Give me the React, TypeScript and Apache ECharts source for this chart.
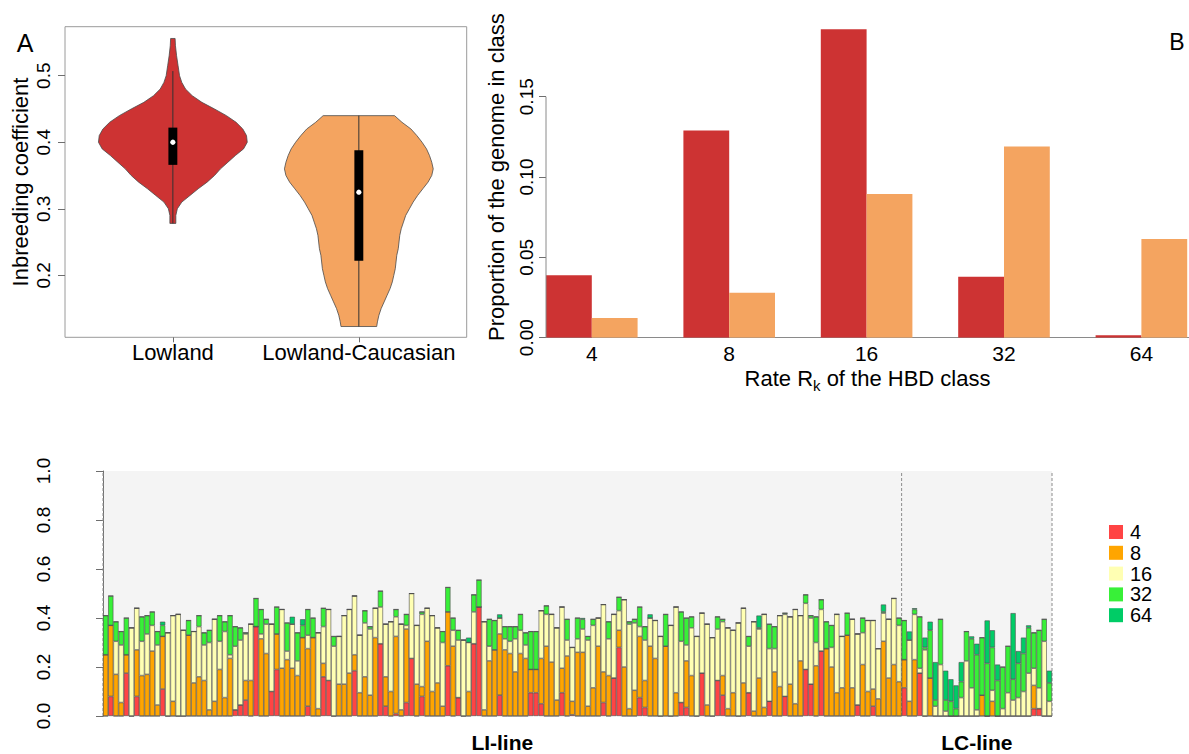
import React, { useEffect, useRef } from "react";
import * as echarts from "echarts";

// ---------- Panel A : violins ----------
const violinGroups = ["Lowland", "Lowland-Caucasian"];
// [inbreeding value, relative density (1 = widest)]
const lowlandProfile: number[][] = [
  [0.556, 0.03], [0.545, 0.035], [0.53, 0.05], [0.515, 0.07], [0.5, 0.09], [0.49, 0.12],
  [0.48, 0.17], [0.47, 0.26], [0.46, 0.39], [0.45, 0.56], [0.44, 0.72], [0.43, 0.85],
  [0.42, 0.94], [0.41, 0.99], [0.4, 1.0], [0.39, 0.95], [0.38, 0.84], [0.37, 0.74],
  [0.36, 0.64], [0.35, 0.56], [0.34, 0.46], [0.33, 0.34], [0.32, 0.23], [0.31, 0.12],
  [0.3, 0.06], [0.29, 0.04], [0.278, 0.04],
];
const caucasianProfile: number[][] = [
  [0.44, 0.48], [0.43, 0.58], [0.42, 0.7], [0.41, 0.78], [0.4, 0.85], [0.39, 0.91],
  [0.38, 0.95], [0.37, 0.98], [0.36, 1.0], [0.35, 0.98], [0.34, 0.93], [0.33, 0.86],
  [0.32, 0.79], [0.31, 0.73], [0.3, 0.68], [0.29, 0.63], [0.28, 0.6], [0.27, 0.57],
  [0.26, 0.55], [0.25, 0.54], [0.24, 0.53], [0.23, 0.51], [0.22, 0.5], [0.21, 0.49],
  [0.2, 0.47], [0.19, 0.45], [0.18, 0.42], [0.17, 0.38], [0.16, 0.34], [0.15, 0.3],
  [0.14, 0.27], [0.13, 0.25], [0.123, 0.24],
];
// [whisker low, q1, median, q3, whisker high]
const lowlandBox = [0.278, 0.366, 0.4, 0.422, 0.507];
const caucasianBox = [0.123, 0.222, 0.325, 0.388, 0.44];
const inbreedingTicks = [0.2, 0.3, 0.4, 0.5];

// ---------- Panel B : grouped bars ----------
const rates = ["4", "8", "16", "32", "64"];
const propLowland = [0.0388, 0.129, 0.192, 0.038, 0.0015];
const propCaucasian = [0.0123, 0.028, 0.0895, 0.119, 0.0615];
const proportionTicks = [0, 0.05, 0.1, 0.15];

// ---------- Panel C : stacked bars per individual ----------
const hbdClasses = ["4", "8", "16", "32", "64"];
const lineGroups = ["LI-line", "LC-line"];
const lineGroupSizes = [154, 29];
const c4 = [
  0, .08, 0, 0, .175, 0, .08, 0, 0, 0,
  0, .11, 0, 0, 0, 0, 0, 0, 0, 0,
  0, 0, 0, 0, 0, .025, .045, .065, 0, .365,
  0, 0, .1, .19, 0, 0, 0, 0, 0, .04,
  0, 0, .16, .145, 0, 0, 0, 0, .185, 0,
  0, 0, 0, .295, .04, 0, .01, 0, .055, .235,
  0, .08, 0, 0, 0, 0, .205, 0, .075, 0,
  0, .295, .445, 0, 0, 0, .085, 0, 0, 0,
  0, 0, .095, .095, .05, 0, 0, 0, .095, 0,
  .005, 0, 0, 0, 0, 0, .055, 0, .155, .28,
  0, 0, 0, .075, .035, 0, 0, 0, 0, 0,
  0, .055, .035, 0, 0, .175, 0, 0, .145, .085,
  0, 0, 0, 0, .095, 0, 0, 0, .06, 0,
  0, .08, 0, 0, 0, .19, .13, 0, .265, 0,
  0, 0, 0, 0, 0, .045, 0, 0, .04, 0,
  0, 0, 0, 0, .115, 0, 0, .175, 0, 0,
  0, 0, 0, 0, 0, 0, 0, 0, 0, 0,
  0, 0, 0, 0, 0, 0, 0, 0, 0, .03,
  .03, 0, 0,
];
const c8 = [
  .25, .29, .17, .055, .075, 0, .19, .165, .17, .265,
  .045, .215, 0, .06, 0, 0, .33, .135, .16, .145,
  .025, .06, .19, .075, .235, 0, 0, .08, .145, 0,
  .315, .255, 0, .145, .195, .23, .195, .165, .32, .235,
  .32, .03, .055, 0, 0, .13, .13, .175, .065, .095,
  .16, .085, .32, 0, .12, .1, .315, .025, .3, 0,
  .13, .04, .305, .1, .135, .04, .22, .285, 0, 0,
  .1, 0, 0, .025, .225, .27, .25, .27, .255, .18,
  .255, .235, .095, .095, .185, .285, .22, .065, .1, .245,
  .055, .26, .26, .04, .115, .285, .125, .165, 0, .07,
  .2, .03, .105, .25, .11, .285, .235, 0, .285, 0,
  .095, 0, .19, .165, 0, 0, .045, 0, 0, .08,
  .03, .095, 0, .135, 0, .02, .155, .035, 0, .18,
  .12, 0, .13, .05, .225, 0, 0, .205, 0, .275,
  .2, .095, .115, .33, .115, 0, .21, .1, .07, .07,
  .305, .155, .21, .14, .115, .06, .23, 0, 0, .155,
  0, 0, 0, 0, 0, 0, 0, 0, 0, .085,
  0, .06, 0, 0, 0, 0, 0, 0, 0, .095,
  0, 0, 0,
];
const c16 = [
  0, 0, .135, .235, 0, .36, .17, .14, .165, .105,
  .245, 0, .34, .35, .415, .35, 0, .21, .205, .145,
  .275, .335, .115, .27, .015, .26, .265, .19, .23, 0,
  .02, .12, .275, 0, .24, .035, .18, .06, 0, .055,
  0, .31, .15, .29, .285, .195, .28, .26, .24, .235,
  .22, .27, .12, .15, .215, .285, .08, .35, .015, .265,
  .24, .295, .135, .31, .225, .26, 0, .065, .235, .31,
  .2, .13, 0, .36, .06, 0, .065, .045, .05, .135,
  .095, .055, 0, 0, .195, .13, .195, .295, .25, .065,
  .22, .055, .095, .27, .255, .115, .275, .15, .26, .08,
  .275, .345, .275, .04, .165, .115, .155, .325, 0, .37,
  .35, .25, .065, .195, .325, .245, .33, .32, .21, .22,
  .33, .255, .38, .305, .19, .365, .2, .38, .215, .095,
  .29, .335, .275, .385, .185, .27, .27, .095, .17, 0,
  .08, .32, .21, 0, .28, .29, .13, .29, .28, .205,
  .115, .24, .27, .23, 0, .25, .185, .02, .27, 0,
  .04, .21, .02, 0, 0, .075, .225, .115, .025, 0,
  0, .045, 0, .03, .095, .065, .075, .1, .175, .07,
  .085, .305, .06,
];
const c32 = [
  .16, .12, .08, .055, .15, 0, 0, .1, .075, .055,
  .055, .045, 0, 0, 0, 0, .06, 0, .045, .05,
  .05, 0, .105, .04, .16, .08, .05, .005, 0, .115,
  .1, .02, 0, .11, 0, .115, 0, .115, .05, .105,
  .08, 0, .075, 0, .04, 0, 0, 0, 0, 0,
  .05, .01, 0, .065, 0, 0, .03, 0, .045, 0,
  0, .01, 0, 0, 0, .045, .1, .05, .04, 0,
  0, .07, .11, 0, .11, .12, 0, .05, .06, .05,
  .065, .05, .155, .155, 0, .035, 0, 0, 0, .085,
  0, .085, .04, .015, .025, 0, 0, .07, 0, .055,
  0, .01, .015, .08, .055, 0, 0, 0, .13, 0,
  0, .12, .11, .045, 0, 0, 0, 0, .05, .01,
  0, 0, 0, 0, .04, 0, .005, 0, .1, .09,
  0, .005, 0, 0, 0, .035, .01, .105, .04, .11,
  .09, 0, 0, .09, 0, 0, .06, 0, 0, 0,
  .005, 0, 0, .03, .16, 0, .02, .21, .01, .195,
  .025, .185, .045, .06, .03, .065, .12, .2, .225, .235,
  .215, .175, .145, .17, .19, .085, .14, .155, .185, .145,
  .235, .09, .075,
];
const c64 = [
  0, 0, 0, 0, 0, 0, 0, 0, 0, 0,
  0, .015, 0, 0, 0, 0, 0, 0, 0, 0,
  0, 0, 0, 0, 0, 0, 0, 0, 0, 0,
  0, 0, 0, 0, 0, 0, .03, 0, .025, 0,
  0, 0, 0, 0, 0, 0, 0, 0, 0, 0,
  0, 0, 0, 0, 0, 0, 0, 0, 0, 0,
  0, 0, 0, 0, 0, 0, 0, 0, 0, 0,
  .02, 0, 0, 0, 0, 0, .015, 0, 0, 0,
  0, 0, 0, 0, 0, 0, 0, 0, 0, 0,
  0, 0, .005, 0, 0, 0, 0, 0, 0, 0,
  0, 0, 0, 0, 0, .015, 0, 0, 0, 0,
  0, 0, 0, 0, 0, 0, 0, 0, 0, 0,
  0, 0, 0, 0, 0, 0, .05, 0, 0, 0,
  0, 0, 0, 0, 0, 0, 0, 0, 0, 0,
  0, 0, 0, 0, 0, 0, 0, 0, 0, 0,
  .03, 0, 0, 0, 0, .035, .005, 0, .04, .035,
  .155, 0, .12, .09, .095, .08, 0, .01, .045, 0,
  .175, .07, .065, 0, 0, .27, .05, .065, .01, 0,
  0, 0, .05,
];
const classValues = [c4, c8, c16, c32, c64];

// ---------- styles ----------
const FONT = "'Liberation Sans', Arial, sans-serif";
const violinColors = ["#CD3333", "#F4A460"];
const hbdColors = ["#FF4444", "#FFA500", "#FFFFB3", "#38F038", "#00CC66"];
const VIOLIN_HALF = 0.4; // x-axis units at density 1
const BOX_HALF = 0.024;

export default function App() {
  const ref = useRef<HTMLDivElement>(null);

  useEffect(() => {
    if (!ref.current) return;
    const chart = echarts.init(ref.current, null, { renderer: "svg" });

    const profiles = [lowlandProfile, caucasianProfile];
    const boxes = [lowlandBox, caucasianBox];
    const individuals = c4.map((_, i) => String(i + 1));
    const boundaries = [0];
    lineGroupSizes.forEach((s) => boundaries.push(boundaries[boundaries.length - 1] + s));
    const total = boundaries[boundaries.length - 1];
    const groupCenters = lineGroupSizes.map((s, i) => boundaries[i] + s / 2);

    const axisGray = "#6e6e6e";

    const option: any = {
      animation: false,
      backgroundColor: "#ffffff",
      textStyle: { fontFamily: FONT, color: "#000" },
      grid: [
        { left: 65, top: 26.7, width: 401.7, height: 310.6, show: true, borderColor: "#9a9a9a", borderWidth: 1, backgroundColor: "transparent" },
        { left: 546, top: 16.4, width: 643, height: 321.3 },
        { left: 103, top: 471, width: 949, height: 245, show: true, borderWidth: 0, backgroundColor: "#F4F4F4" },
      ],
      legend: {
        data: hbdClasses,
        orient: "vertical",
        left: 1104,
        top: 517,
        itemWidth: 14,
        itemHeight: 14,
        itemGap: 0.8,
        icon: "rect",
        itemStyle: { borderWidth: 0 },
        textStyle: { fontSize: 20, color: "#000", fontFamily: FONT, padding: [0, 0, 0, 2] },
        selectedMode: false,
      },
      xAxis: [
        {
          type: "value", gridIndex: 0, min: 0.42, max: 2.58,
          axisLine: { show: false },
          axisTick: { show: true, customValues: [1, 2], length: 5, lineStyle: { color: axisGray } },
          axisLabel: { customValues: [1, 2], formatter: (v: number) => violinGroups[Math.round(v) - 1], fontSize: 22, color: "#000", margin: 4 },
          splitLine: { show: false },
        },
        {
          type: "value", gridIndex: 1, min: 0, max: 643 / 45.8,
          axisLine: { show: true, lineStyle: { color: "#8a8a8a", width: 1 } },
          axisTick: { show: false },
          axisLabel: {
            customValues: rates.map((_, k) => 3 * k + 1),
            formatter: (v: number) => rates[Math.round((v - 1) / 3)],
            fontSize: 21, color: "#000", margin: 5,
          },
          splitLine: { show: false },
          name: "Rate R{sub|k} of the HBD class",
          nameLocation: "middle",
          nameGap: 18,
          nameTextStyle: {
            fontSize: 22, color: "#000", fontFamily: FONT, lineHeight: 28,
            rich: { sub: { fontSize: 15, verticalAlign: "bottom", lineHeight: 15, fontFamily: FONT } },
          },
        },
        {
          type: "category", gridIndex: 2, data: individuals, boundaryGap: true, position: "bottom",
          axisLine: { show: false }, axisTick: { show: false }, axisLabel: { show: false },
        },
        {
          type: "value", gridIndex: 2, min: 0, max: total, position: "bottom", offset: 0,
          axisLine: { show: false }, axisTick: { show: false }, splitLine: { show: false },
          axisLabel: {
            customValues: groupCenters,
            formatter: (v: number) => lineGroups[groupCenters.indexOf(v)] ?? "",
            fontSize: 21, fontWeight: "bold", color: "#000", margin: 16,
          },
        },
      ],
      yAxis: [
        {
          type: "value", gridIndex: 0, min: 0.1068, max: 0.5737,
          axisLine: { show: false },
          axisTick: { show: true, customValues: inbreedingTicks, length: 7, lineStyle: { color: axisGray } },
          axisLabel: { customValues: inbreedingTicks, rotate: 90, formatter: (v: number) => v.toFixed(1), fontSize: 19, color: "#000", margin: 12 },
          splitLine: { show: false },
          name: "Inbreeding coefficient", nameLocation: "middle", nameGap: 34, nameRotate: 90,
          nameTextStyle: { fontSize: 22, color: "#000", fontFamily: FONT },
        },
        {
          type: "value", gridIndex: 1, min: 0, max: 0.2,
          axisLine: { show: false },
          axisTick: { show: true, customValues: proportionTicks, length: 7, lineStyle: { color: axisGray } },
          axisLabel: { customValues: proportionTicks, rotate: 90, formatter: (v: number) => v.toFixed(2), fontSize: 19, color: "#000", margin: 10 },
          splitLine: { show: false },
          name: "Proportion of the genome in class", nameLocation: "middle", nameGap: 39, nameRotate: 90,
          nameTextStyle: { fontSize: 22, color: "#000", fontFamily: FONT },
        },
        {
          type: "value", gridIndex: 2, min: 0, max: 1, interval: 0.2, offset: 38,
          axisLine: { show: true, lineStyle: { color: axisGray } },
          axisTick: { show: true, length: 7, lineStyle: { color: axisGray } },
          axisLabel: { rotate: 90, formatter: (v: number) => v.toFixed(1), fontSize: 19, color: "#000", margin: 12 },
          splitLine: { show: false },
        },
      ],
      series: [
        // ----- violins -----
        {
          type: "custom",
          name: "violins",
          xAxisIndex: 0, yAxisIndex: 0,
          silent: true,
          data: violinGroups.map((_, i) => [i + 1, boxes[i][2]]),
          encode: { x: 0, y: 1 },
          renderItem: (params: any, api: any) => {
            const i = params.dataIndex;
            const cx = api.value(0);
            const prof = profiles[i];
            const right = prof.map(([v, d]) => api.coord([cx + d * VIOLIN_HALF, v]));
            const left = prof.slice().reverse().map(([v, d]) => api.coord([cx - d * VIOLIN_HALF, v]));
            const b = boxes[i];
            const lo = api.coord([cx, b[0]]);
            const hi = api.coord([cx, b[4]]);
            const q1 = api.coord([cx - BOX_HALF, b[1]]);
            const q3 = api.coord([cx + BOX_HALF, b[3]]);
            const med = api.coord([cx, b[2]]);
            return {
              type: "group",
              children: [
                { type: "polygon", shape: { points: [...right, ...left] }, style: { fill: violinColors[i], stroke: "#4a4a4a", lineWidth: 0.8 } },
                { type: "line", shape: { x1: lo[0], y1: lo[1], x2: hi[0], y2: hi[1] }, style: { stroke: "#333", lineWidth: 1 } },
                { type: "rect", shape: { x: q1[0], y: q3[1], width: q3[0] - q1[0], height: q1[1] - q3[1] }, style: { fill: "#000" } },
                { type: "circle", shape: { cx: med[0], cy: med[1], r: 2.6 }, style: { fill: "#fff" } },
              ],
            };
          },
        },
        // ----- panel B bars -----
        ...[propLowland, propCaucasian].map((vals, s) => ({
          type: "custom",
          name: violinGroups[s],
          xAxisIndex: 1, yAxisIndex: 1,
          silent: true,
          clip: true,
          data: vals.map((v, k) => [3 * k + s, v]),
          encode: { x: 0, y: 1 },
          renderItem: (params: any, api: any) => {
            const x0 = api.value(0);
            const v = api.value(1);
            const p0 = api.coord([x0, v]);
            const p1 = api.coord([x0 + 1, 0]);
            return {
              type: "rect",
              shape: { x: p0[0], y: p0[1], width: p1[0] - p0[0], height: p1[1] - p0[1] },
              style: { fill: violinColors[s] },
            };
          },
        })),
        {
          type: "line",
          name: "yaxisB",
          xAxisIndex: 1, yAxisIndex: 1,
          silent: true,
          symbol: "none",
          data: [[0, proportionTicks[0]], [0, proportionTicks[proportionTicks.length - 1]]],
          lineStyle: { color: "#8a8a8a", width: 1 },
          z: 5,
        },
        // ----- panel C dashed separators -----
        {
          type: "custom",
          name: "separators",
          xAxisIndex: 3, yAxisIndex: 2,
          silent: true,
          z: 1,
          data: boundaries.map((b) => [b, 1]),
          encode: { x: 0, y: 1 },
          renderItem: (params: any, api: any) => {
            const x = api.value(0);
            const p0 = api.coord([x, 0]);
            const p1 = api.coord([x, 1]);
            return {
              type: "line",
              shape: { x1: p0[0], y1: p0[1], x2: p1[0], y2: p1[1] },
              style: { stroke: "#8c8c8c", lineWidth: 1, lineDash: [3, 2] },
            };
          },
        },
        // ----- panel C stacked bars -----
        ...hbdClasses.map((name, i) => ({
          type: "bar",
          name,
          xAxisIndex: 2, yAxisIndex: 2,
          stack: "hbd",
          data: classValues[i],
          barCategoryGap: "0%",
          silent: true,
          z: 3,
          itemStyle: { color: hbdColors[i], borderColor: "#4d4d4d", borderWidth: 0.6 },
        })),
      ],
      graphic: [
        { type: "text", x: 25, y: 43, style: { text: "A", fontSize: 25, fill: "#000", align: "center", verticalAlign: "middle", fontFamily: FONT } },
        { type: "text", x: 1177, y: 42, style: { text: "B", fontSize: 23, fill: "#000", align: "center", verticalAlign: "middle", fontFamily: FONT } },
      ],
    };

    chart.setOption(option);
    return () => chart.dispose();
  }, []);

  return (
    <div
      ref={ref}
      style={{ position: "fixed", left: 0, top: 0, width: 1189, height: 754, background: "#fff" }}
    />
  );
}
